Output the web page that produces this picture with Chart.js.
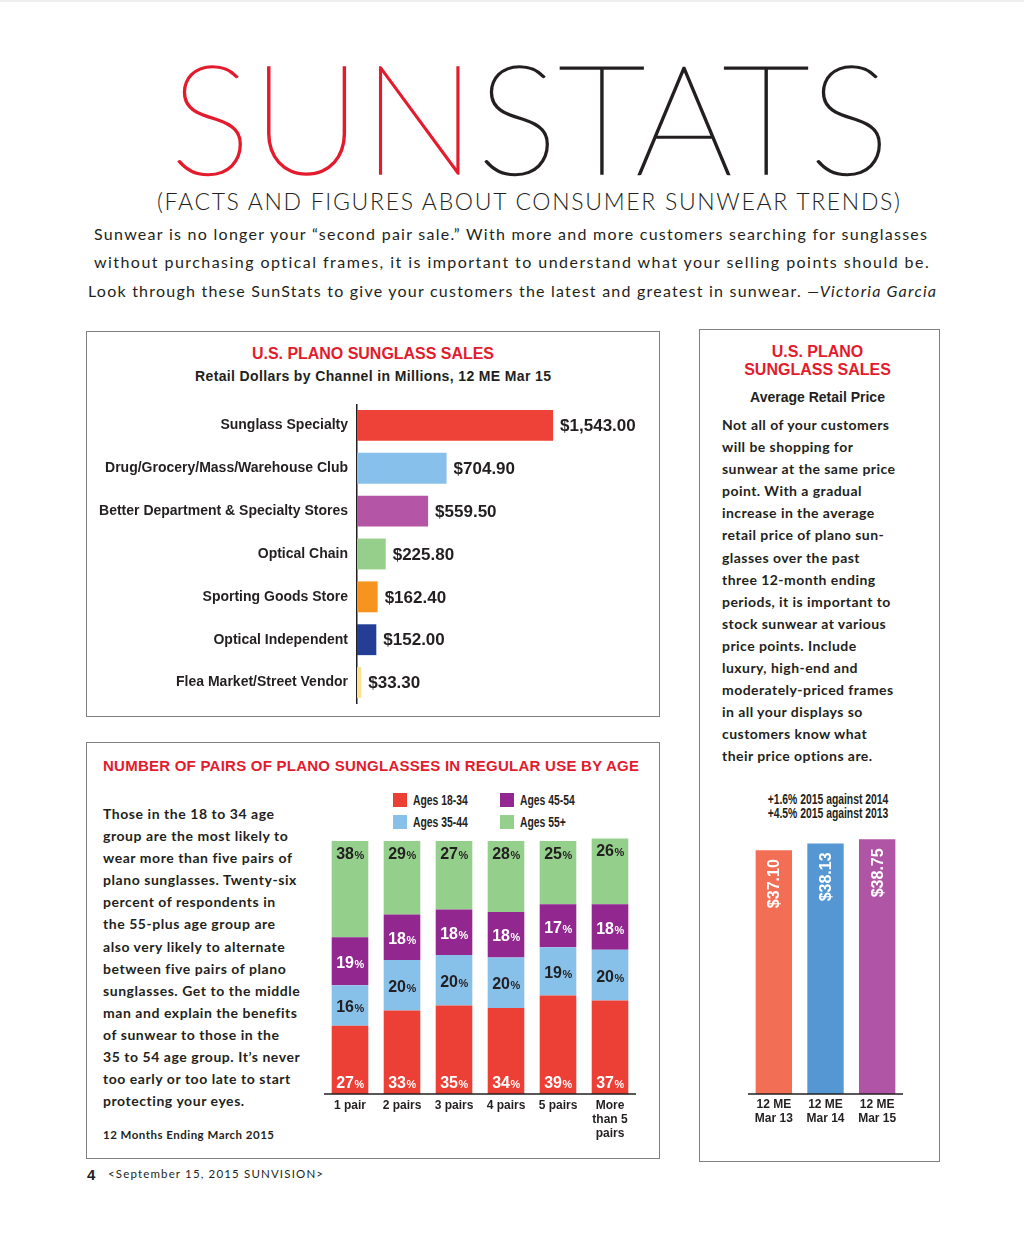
<!DOCTYPE html>
<html>
<head>
<meta charset="utf-8">
<script src="https://cdn.jsdelivr.net/npm/chart.js@4.4.0/dist/chart.umd.min.js"></script>
<style>
  body { margin: 0; background: #fff; }
  #page { position: relative; width: 1024px; height: 1237px; overflow: hidden; color: #231f20;
          font-family: 'Liberation Sans', Arial, sans-serif; border-top: 2px solid #eee; box-sizing: border-box; }
  .t { position: absolute; white-space: nowrap; line-height: 1; }
  .box { position: absolute; border: 1px solid #808080; box-sizing: border-box; }
  .red { color: #e31b2d; }
  .para { position: absolute; font-family: Lato, sans-serif; font-weight: 700; font-size: 14px; letter-spacing: 0.55px; line-height: 22.1px; white-space: nowrap; }
  .cond { font-family: 'Liberation Sans', Arial, sans-serif; font-weight: 700; font-size: 14px; transform: scaleX(0.74); }
  .sw { position: absolute; width: 14px; height: 14px; }
  .chart { position: absolute; }
</style>
</head>
<body>
<div id="page">
  <div class="t fit" data-w="720" style="left:170px;top:37px;font-family:Lato,Roboto,sans-serif;font-weight:100;font-size:153px;-webkit-text-stroke:1.6px #231f20;"><span class="red" style="-webkit-text-stroke-color:#e31b2d;">SUN</span>STATS</div>
  <div class="t fit" data-w="743" style="left:157px;top:188px;font-family:Lato,sans-serif;font-weight:300;font-size:23px;">(FACTS AND FIGURES ABOUT CONSUMER SUNWEAR TRENDS)</div>
  <div class="t fit" data-w="833" style="left:94px;top:224px;font-family:Lato,sans-serif;font-size:16px;">Sunwear is no longer your “second pair sale.” With more and more customers searching for sunglasses</div>
  <div class="t fit" data-w="835" style="left:94px;top:252px;font-family:Lato,sans-serif;font-size:16px;">without purchasing optical frames, it is important to understand what your selling points should be.</div>
  <div class="t fit" data-w="848" style="left:88px;top:281px;font-family:Lato,sans-serif;font-size:16px;">Look through these SunStats to give your customers the latest and greatest in sunwear. <i>—Victoria Garcia</i></div>

  <!-- box 1 -->
  <div class="box" style="left:86px;top:329px;width:574px;height:386px;"></div>
  <div class="t red fit" data-w="242" style="left:252px;top:344px;font-weight:700;font-size:16px;">U.S. PLANO SUNGLASS SALES</div>
  <div class="t fit" data-w="356" style="left:195px;top:367px;font-weight:700;font-size:14px;">Retail Dollars by Channel in Millions, 12 ME Mar 15</div>
  <div class="chart" style="left:86px;top:402px;width:576px;height:300px;"><canvas id="c1"></canvas></div>

  <!-- box 2 -->
  <div class="box" style="left:86px;top:740px;width:574px;height:417px;"></div>
  <div class="t red fit" data-w="536" style="left:103px;top:756px;font-weight:700;font-size:15px;">NUMBER OF PAIRS OF PLANO SUNGLASSES IN REGULAR USE BY AGE</div>
  <div class="para" style="left:103px;top:801px;">Those in the 18 to 34 age<br>group are the most likely to<br>wear more than five pairs of<br>plano sunglasses. Twenty-six<br>percent of respondents in<br>the 55-plus age group are<br>also very likely to alternate<br>between five pairs of plano<br>sunglasses. Get to the middle<br>man and explain the benefits<br>of sunwear to those in the<br>35 to 54 age group. It’s never<br>too early or too late to start<br>protecting your eyes.</div>
  <div class="t fit" data-w="171" style="left:103px;top:1127px;font-family:Lato,sans-serif;font-weight:700;font-size:11.5px;">12 Months Ending March 2015</div>
  <div id="legend"></div>
  <div class="chart" style="left:324px;top:829px;width:312px;height:333px;"><canvas id="c2"></canvas></div>

  <!-- box 3 -->
  <div class="box" style="left:699px;top:327px;width:241px;height:833px;"></div>
  <div class="t red" style="left:697px;width:241px;text-align:center;top:341px;font-weight:700;font-size:16px;line-height:18px;">U.S. PLANO<br>SUNGLASS SALES</div>
  <div class="t" style="left:697px;width:241px;text-align:center;top:388px;font-weight:700;font-size:14px;">Average Retail Price</div>
  <div class="para" style="left:722px;top:412px;letter-spacing:0.45px;">Not all of your customers<br>will be shopping for<br>sunwear at the same price<br>point. With a gradual<br>increase in the average<br>retail price of plano sun-<br>glasses over the past<br>three 12-month ending<br>periods, it is important to<br>stock sunwear at various<br>price points. Include<br>luxury, high-end and<br>moderately-priced frames<br>in all your displays so<br>customers know what<br>their price options are.</div>
  <div class="t cond" style="left:728px;width:200px;text-align:center;top:790px;line-height:14px;">+1.6% 2015 against 2014<br>+4.5% 2015 against 2013</div>
  <div class="chart" style="left:748px;top:816px;width:155px;height:326px;"><canvas id="c3"></canvas></div>

  <!-- footer -->
  <div class="t" style="left:87px;top:1165px;font-weight:700;font-size:15px;">4</div>
  <div class="t fit" data-w="215" style="left:108px;top:1166px;font-family:Lato,sans-serif;font-size:11.5px;">&lt;September 15, 2015 SUNVISION&gt;</div>
</div>

<script>
// ---- data ----
const channels = ['Sunglass Specialty', 'Drug/Grocery/Mass/Warehouse Club', 'Better Department & Specialty Stores',
  'Optical Chain', 'Sporting Goods Store', 'Optical Independent', 'Flea Market/Street Vendor'];
const channelSales = [1543.00, 704.90, 559.50, 225.80, 162.40, 152.00, 33.30];
const channelColors = ['#ee4137', '#87c0ea', '#b455a5', '#95cf8b', '#f7941e', '#243e96', '#fbe28f'];

const pairLabels = ['1 pair', '2 pairs', '3 pairs', '4 pairs', '5 pairs', ['More', 'than 5', 'pairs']];
const ageGroups = ['Ages 18-34', 'Ages 35-44', 'Ages 45-54', 'Ages 55+'];
const ages18to34 = [27, 33, 35, 34, 39, 37];
const ages35to44 = [16, 20, 20, 20, 19, 20];
const ages45to54 = [19, 18, 18, 18, 17, 18];
const ages55plus = [38, 29, 27, 28, 25, 26];
const ageColors = ['#ec4036', '#87c1ea', '#92278f', '#94cf8c'];

const periods = [['12 ME', 'Mar 13'], ['12 ME', 'Mar 14'], ['12 ME', 'Mar 15']];
const avgPrice = [37.10, 38.13, 38.75];
const priceColors = ['#f26f55', '#5497d3', '#b055a5'];

const INK = '#231f20';
const SANS = "'Liberation Sans', Arial, sans-serif";
Chart.defaults.animation = false;
Chart.defaults.font.family = SANS;
Chart.defaults.color = INK;

// stretch single-line texts to their width
function fitText() {
  document.querySelectorAll('.fit').forEach(el => {
    el.style.letterSpacing = '0px';
    const w = el.getBoundingClientRect().width;
    const n = el.textContent.length;
    el.style.letterSpacing = ((+el.dataset.w - w) / (n - 1)) + 'px';
  });
}

// legend, 2 x 2
const legend = document.getElementById('legend');
const legendPos = [[393, 791], [393, 813], [500, 791], [500, 813]];
ageGroups.forEach((g, i) => {
  const [x, y] = legendPos[i];
  legend.insertAdjacentHTML('beforeend',
    `<div class="sw" style="left:${x}px;top:${y}px;background:${ageColors[i]}"></div>` +
    `<div class="t cond" style="left:${x + 20}px;top:${y}px;transform-origin:left center;">${g}</div>`);
});

// axis line with small end ticks
const baseline = (l, r) => ({
  id: 'baseline',
  afterDraw(chart) {
    const { ctx, chartArea: a } = chart;
    ctx.save();
    ctx.strokeStyle = INK; ctx.lineWidth = 1.5;
    ctx.beginPath();
    ctx.moveTo(a.left - l, a.bottom - 6);
    ctx.lineTo(a.left - l, a.bottom);
    ctx.lineTo(a.right + r, a.bottom);
    ctx.lineTo(a.right + r, a.bottom - 6);
    ctx.stroke();
    ctx.restore();
  }
});

// chart 1: horizontal bars
new Chart(document.getElementById('c1'), {
  type: 'bar',
  data: {
    labels: channels,
    datasets: [{ data: channelSales, backgroundColor: channelColors, barPercentage: 0.9, categoryPercentage: 0.8 }]
  },
  options: {
    indexAxis: 'y',
    responsive: true, maintainAspectRatio: false,
    plugins: { legend: { display: false }, tooltip: { enabled: false } },
    scales: {
      x: { display: false, min: 0, max: 2400 },
      y: {
        grid: { display: false, drawTicks: false },
        border: { display: true, color: INK, width: 1.5 },
        ticks: { padding: 9, color: INK, font: { size: 14, weight: 'bold' } },
        afterFit: s => { s.width = 271; s.paddingTop = 0; s.paddingBottom = 0; }
      }
    }
  },
  plugins: [{
    id: 'values',
    afterDatasetsDraw(chart) {
      const ctx = chart.ctx;
      ctx.save();
      ctx.font = 'bold 17px ' + SANS;
      ctx.fillStyle = INK; ctx.textBaseline = 'middle';
      chart.getDatasetMeta(0).data.forEach((bar, i) => {
        const txt = '$' + channelSales[i].toLocaleString('en-US', { minimumFractionDigits: 2 });
        ctx.fillText(txt, bar.x + 7, bar.y + 1);
      });
      ctx.restore();
    }
  }]
});

// chart 2: stacked bars
const stackSets = [ages18to34, ages35to44, ages45to54, ages55plus].map((d, i) => ({
  label: ageGroups[i], data: d, backgroundColor: ageColors[i],
  barPercentage: 0.88, categoryPercentage: 0.8,
  anchor: ['bottom', 'center', 'center', 'top'][i],
  textColor: ['#fff', INK, '#fff', INK][i]
}));
new Chart(document.getElementById('c2'), {
  type: 'bar',
  data: { labels: pairLabels, datasets: stackSets },
  options: {
    responsive: true, maintainAspectRatio: false,
    plugins: { legend: { display: false }, tooltip: { enabled: false } },
    scales: {
      y: { display: false, stacked: true, min: 0, max: 104 },
      x: {
        stacked: true,
        grid: { display: false, drawTicks: false }, border: { display: false },
        ticks: { padding: 5, color: INK, maxRotation: 0, autoSkip: false, font: { size: 12, weight: 'bold', lineHeight: 1.17 } },
        afterFit: s => { s.height = 70; }
      }
    }
  },
  plugins: [baseline(5, 7), {
    id: 'pct',
    afterDatasetsDraw(chart) {
      const ctx = chart.ctx;
      ctx.save();
      chart.data.datasets.forEach((ds, i) => {
        chart.getDatasetMeta(i).data.forEach((bar, j) => {
          const top = Math.min(bar.y, bar.base), bot = Math.max(bar.y, bar.base);
          const cy = ds.anchor === 'bottom' ? bot - 12 : ds.anchor === 'top' ? top + 12 : (top + bot) / 2 + 1;
          const num = String(ds.data[j]);
          ctx.font = 'bold 16px ' + SANS;
          const w1 = ctx.measureText(num).width;
          ctx.font = 'bold 11px ' + SANS;
          const w2 = ctx.measureText('%').width;
          const x0 = bar.x - (w1 + w2) / 2;
          ctx.fillStyle = ds.textColor;
          ctx.textBaseline = 'alphabetic'; ctx.textAlign = 'left';
          ctx.font = 'bold 16px ' + SANS;
          ctx.fillText(num, x0, cy + 5.7);
          ctx.font = 'bold 11px ' + SANS;
          ctx.fillText('%', x0 + w1 + 0.5, cy + 5.7);
        });
      });
      ctx.restore();
    }
  }]
});

// chart 3: average price
new Chart(document.getElementById('c3'), {
  type: 'bar',
  data: {
    labels: periods,
    datasets: [{ data: avgPrice, backgroundColor: priceColors, barPercentage: 0.88, categoryPercentage: 0.8 }]
  },
  options: {
    responsive: true, maintainAspectRatio: false,
    plugins: { legend: { display: false }, tooltip: { enabled: false } },
    scales: {
      y: { display: false, min: 0, max: 42 },
      x: {
        grid: { display: false, drawTicks: false }, border: { display: false },
        ticks: { padding: 4, color: INK, maxRotation: 0, font: { size: 12, weight: 'bold', lineHeight: 1.17 } },
        afterFit: s => { s.height = 50; }
      }
    }
  },
  plugins: [baseline(8, 7), {
    id: 'rotValues',
    afterDatasetsDraw(chart) {
      const ctx = chart.ctx;
      chart.getDatasetMeta(0).data.forEach((bar, i) => {
        ctx.save();
        ctx.translate(bar.x, bar.y + 9);
        ctx.rotate(-Math.PI / 2);
        ctx.font = 'bold 16px ' + SANS;
        ctx.fillStyle = '#fff'; ctx.textAlign = 'right'; ctx.textBaseline = 'middle';
        ctx.fillText('$' + avgPrice[i].toFixed(2), 0, 1);
        ctx.restore();
      });
    }
  }]
});

fitText();
document.fonts.ready.then(fitText);
</script>
</body>
</html>
